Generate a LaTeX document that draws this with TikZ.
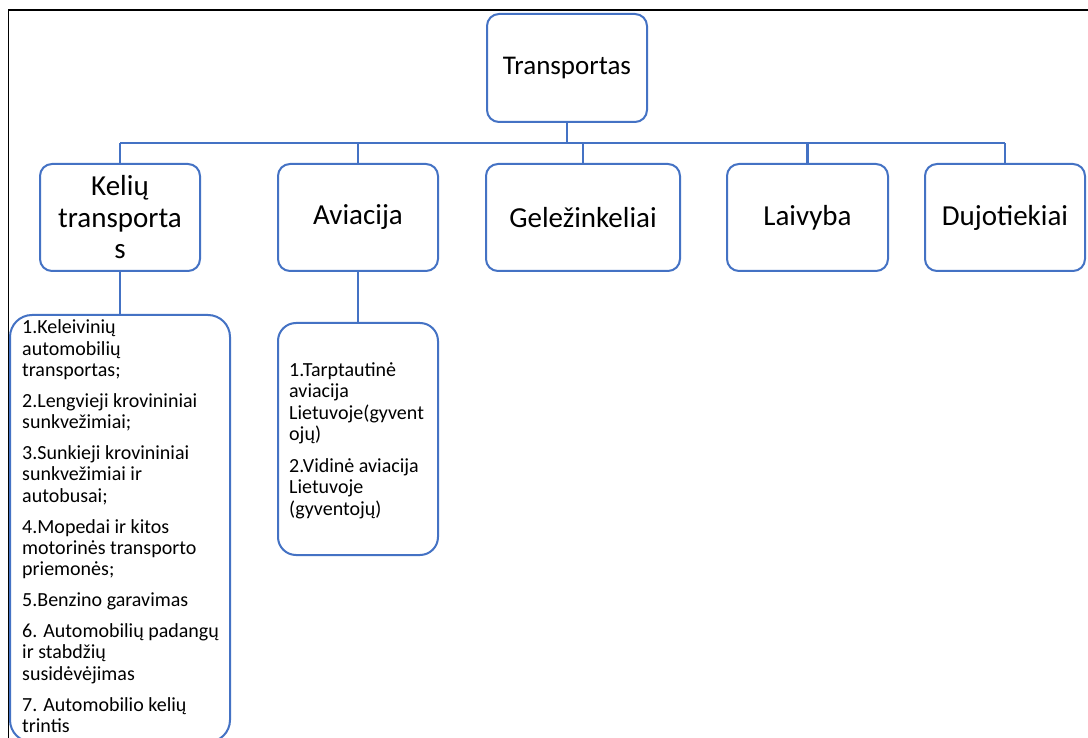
\documentclass[tikz,border=0pt]{standalone}
\usepackage{fontspec}
\setmainfont{Carlito}
\definecolor{boxblue}{RGB}{68,114,196}
\tikzset{
  catbox/.style={draw=boxblue, line width=2pt, rounded corners=12pt, fill=white,
    minimum width=160pt, minimum height=107pt, inner sep=0pt, align=center,
    font=\fontsize{29}{31.5}\selectfont},
  listbox/.style={draw=boxblue, line width=2pt, fill=white, inner sep=0pt},
  conn/.style={draw=boxblue, line width=2.5pt},
  listtext/.style={anchor=base west, inner sep=0pt},
}
\begin{document}
\begin{tikzpicture}[x=1pt,y=-1pt]
\useasboundingbox (0,0) rectangle (1088,738);
\fill[white] (0,0) rectangle (1088,738);
% frame
\draw[black, line width=1.8pt] (8.5,738) -- (8.5,10) -- (1088,10);

% top node
\node[catbox, minimum height=108pt, font=\fontsize{27}{30}\selectfont] (T) at (567,68) {Transportas};

% category nodes
\node[catbox] (K) at (120,217.5) {Kelių\\transporta\\s};
\node[catbox] (A) at (358,217.5) {Aviacija};
\node[catbox, minimum width=194pt] (G) at (583,217.5) {Geležinkeliai};
\node[catbox, minimum width=161pt] (L) at (807.5,217.5) {Laivyba};
\node[catbox] (D) at (1005,217.5) {Dujotiekiai};

% bar
\coordinate (bar) at (568,143);
\draw[conn] (T.south) -- (T.south |- bar);
\draw[conn] (K.north |- bar) -- (D.north |- bar);
\foreach \n in {K,A,G,L,D} \draw[conn] (\n.north) -- (\n.north |- bar);

% sub boxes
\node[listbox, rounded corners=22pt, minimum width=220pt, minimum height=427pt] (KL) at (120,528.5) {};
\node[listbox, rounded corners=18pt, minimum width=160pt, minimum height=232pt] (AL) at (358,439) {};
\draw[conn, line width=2pt] (K.south) -- (KL.north -| K.south);
\draw[conn, line width=2pt] (A.south) -- (AL.north -| A.south);

% list texts
\node[listtext] (KT) at (22,334) {\parbox[t]{205pt}{\fontsize{20}{21.3}\selectfont\setlength{\parskip}{9.6pt}%
1.Keleivinių\\automobilių\\transportas;\par
2.Lengvieji krovininiai\\sunkvežimiai;\par
3.Sunkieji krovininiai\\sunkvežimiai ir\\autobusai;\par
4.Mopedai ir kitos\\motorinės transporto\\priemonės;\par
5.Benzino garavimas\par
6. Automobilių padangų\\ir stabdžių\\susidėvėjimas\par
7. Automobilio kelių\\trintis}};

\node[listtext] (AT) at (289,376) {\parbox[t]{145pt}{\fontsize{20}{21.6}\selectfont\setlength{\parskip}{10pt}%
1.Tarptautinė\\aviacija\\Lietuvoje(gyvent\\ojų)\par
2.Vidinė aviacija\\Lietuvoje\\(gyventojų)}};
\end{tikzpicture}
\end{document}
